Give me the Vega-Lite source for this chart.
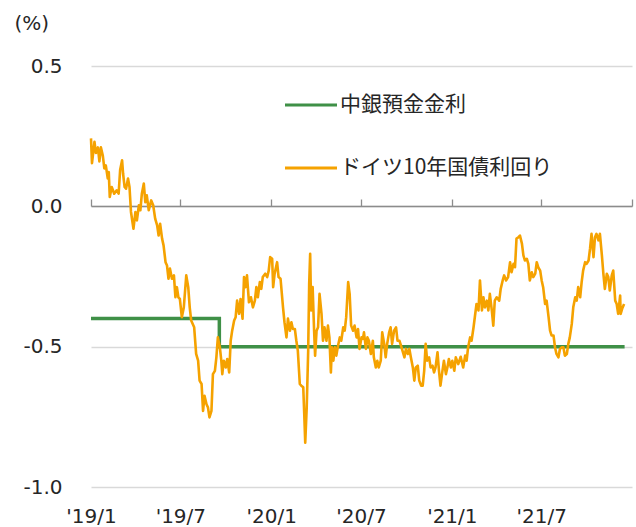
{
  "$schema": "https://vega.github.io/schema/vega-lite/v6.json",
  "width": 541,
  "height": 421,
  "autosize": {"type": "none"},
  "padding": {"left": 91, "top": 66, "right": 4, "bottom": 40},
  "background": "white",
  "config": {"view": {"stroke": null}},
  "datasets": {
    "ecb": [
      {"d": "2019-01-01", "v": -0.4},
      {"d": "2019-09-18", "v": -0.5},
      {"d": "2021-12-17", "v": -0.5}
    ],
    "bund": [
      {"d": "2019-01-01", "v": 0.242}, {"d": "2019-01-03", "v": 0.154}, {"d": "2019-01-08", "v": 0.23}, {"d": "2019-01-11", "v": 0.19},
      {"d": "2019-01-15", "v": 0.21}, {"d": "2019-01-18", "v": 0.16}, {"d": "2019-01-21", "v": 0.21}, {"d": "2019-01-25", "v": 0.18},
      {"d": "2019-01-28", "v": 0.135}, {"d": "2019-01-31", "v": 0.146}, {"d": "2019-02-04", "v": 0.099}, {"d": "2019-02-06", "v": 0.122},
      {"d": "2019-02-08", "v": 0.033}, {"d": "2019-02-12", "v": 0.069}, {"d": "2019-02-17", "v": 0.045}, {"d": "2019-02-22", "v": 0.057},
      {"d": "2019-02-26", "v": 0.045}, {"d": "2019-03-01", "v": 0.129}, {"d": "2019-03-05", "v": 0.164}, {"d": "2019-03-07", "v": 0.117},
      {"d": "2019-03-10", "v": 0.069}, {"d": "2019-03-13", "v": 0.063}, {"d": "2019-03-17", "v": 0.099}, {"d": "2019-03-20", "v": 0.069},
      {"d": "2019-03-23", "v": -0.02}, {"d": "2019-03-28", "v": -0.08}, {"d": "2019-04-01", "v": -0.02}, {"d": "2019-04-04", "v": -0.05},
      {"d": "2019-04-08", "v": 0.004}, {"d": "2019-04-11", "v": -0.014}, {"d": "2019-04-14", "v": 0.045}, {"d": "2019-04-18", "v": 0.081},
      {"d": "2019-04-21", "v": 0.015}, {"d": "2019-04-24", "v": 0.039}, {"d": "2019-04-28", "v": -0.014}, {"d": "2019-05-03", "v": 0.021},
      {"d": "2019-05-07", "v": 0.004}, {"d": "2019-05-11", "v": -0.044}, {"d": "2019-05-15", "v": -0.068}, {"d": "2019-05-18", "v": -0.104},
      {"d": "2019-05-21", "v": -0.062}, {"d": "2019-05-25", "v": -0.115}, {"d": "2019-05-28", "v": -0.139}, {"d": "2019-06-01", "v": -0.199},
      {"d": "2019-06-04", "v": -0.211}, {"d": "2019-06-07", "v": -0.258}, {"d": "2019-06-10", "v": -0.222}, {"d": "2019-06-14", "v": -0.258},
      {"d": "2019-06-18", "v": -0.246}, {"d": "2019-06-21", "v": -0.324}, {"d": "2019-06-24", "v": -0.288}, {"d": "2019-06-27", "v": -0.324},
      {"d": "2019-06-30", "v": -0.33}, {"d": "2019-07-04", "v": -0.395}, {"d": "2019-07-08", "v": -0.36}, {"d": "2019-07-13", "v": -0.246},
      {"d": "2019-07-17", "v": -0.288}, {"d": "2019-07-20", "v": -0.36}, {"d": "2019-07-23", "v": -0.407}, {"d": "2019-07-29", "v": -0.431},
      {"d": "2019-08-02", "v": -0.526}, {"d": "2019-08-06", "v": -0.55}, {"d": "2019-08-09", "v": -0.621}, {"d": "2019-08-13", "v": -0.633},
      {"d": "2019-08-16", "v": -0.729}, {"d": "2019-08-19", "v": -0.675}, {"d": "2019-08-23", "v": -0.705}, {"d": "2019-08-26", "v": -0.717},
      {"d": "2019-08-29", "v": -0.752}, {"d": "2019-09-02", "v": -0.729}, {"d": "2019-09-05", "v": -0.598}, {"d": "2019-09-09", "v": -0.586},
      {"d": "2019-09-12", "v": -0.538}, {"d": "2019-09-15", "v": -0.467}, {"d": "2019-09-19", "v": -0.502}, {"d": "2019-09-22", "v": -0.55},
      {"d": "2019-09-24", "v": -0.598}, {"d": "2019-09-27", "v": -0.55}, {"d": "2019-10-01", "v": -0.574}, {"d": "2019-10-04", "v": -0.544},
      {"d": "2019-10-08", "v": -0.592}, {"d": "2019-10-11", "v": -0.479}, {"d": "2019-10-14", "v": -0.443}, {"d": "2019-10-18", "v": -0.407},
      {"d": "2019-10-21", "v": -0.395}, {"d": "2019-10-24", "v": -0.336}, {"d": "2019-10-28", "v": -0.383}, {"d": "2019-10-31", "v": -0.33},
      {"d": "2019-11-04", "v": -0.4}, {"d": "2019-11-07", "v": -0.252}, {"d": "2019-11-10", "v": -0.288}, {"d": "2019-11-13", "v": -0.246},
      {"d": "2019-11-17", "v": -0.342}, {"d": "2019-11-21", "v": -0.324}, {"d": "2019-11-25", "v": -0.36}, {"d": "2019-11-29", "v": -0.336},
      {"d": "2019-12-02", "v": -0.288}, {"d": "2019-12-05", "v": -0.324}, {"d": "2019-12-09", "v": -0.27}, {"d": "2019-12-12", "v": -0.294},
      {"d": "2019-12-15", "v": -0.252}, {"d": "2019-12-20", "v": -0.24}, {"d": "2019-12-24", "v": -0.252}, {"d": "2019-12-27", "v": -0.229},
      {"d": "2019-12-30", "v": -0.181}, {"d": "2020-01-03", "v": -0.187}, {"d": "2020-01-05", "v": -0.288}, {"d": "2020-01-08", "v": -0.24},
      {"d": "2020-01-13", "v": -0.199}, {"d": "2020-01-16", "v": -0.252}, {"d": "2020-01-20", "v": -0.258}, {"d": "2020-01-25", "v": -0.36},
      {"d": "2020-01-28", "v": -0.413}, {"d": "2020-02-01", "v": -0.467}, {"d": "2020-02-04", "v": -0.4}, {"d": "2020-02-08", "v": -0.443},
      {"d": "2020-02-11", "v": -0.413}, {"d": "2020-02-14", "v": -0.437}, {"d": "2020-02-18", "v": -0.437}, {"d": "2020-02-21", "v": -0.479},
      {"d": "2020-02-24", "v": -0.514}, {"d": "2020-02-28", "v": -0.633}, {"d": "2020-03-02", "v": -0.639}, {"d": "2020-03-06", "v": -0.645},
      {"d": "2020-03-08", "v": -0.74}, {"d": "2020-03-10", "v": -0.842}, {"d": "2020-03-13", "v": -0.717}, {"d": "2020-03-16", "v": -0.514},
      {"d": "2020-03-18", "v": -0.276}, {"d": "2020-03-20", "v": -0.169}, {"d": "2020-03-22", "v": -0.371}, {"d": "2020-03-25", "v": -0.288},
      {"d": "2020-03-28", "v": -0.443}, {"d": "2020-03-30", "v": -0.532}, {"d": "2020-04-02", "v": -0.443}, {"d": "2020-04-05", "v": -0.431},
      {"d": "2020-04-08", "v": -0.312}, {"d": "2020-04-12", "v": -0.383}, {"d": "2020-04-15", "v": -0.479}, {"d": "2020-04-18", "v": -0.431},
      {"d": "2020-04-22", "v": -0.479}, {"d": "2020-04-25", "v": -0.425}, {"d": "2020-04-28", "v": -0.467}, {"d": "2020-05-01", "v": -0.592},
      {"d": "2020-05-03", "v": -0.502}, {"d": "2020-05-06", "v": -0.55}, {"d": "2020-05-09", "v": -0.502}, {"d": "2020-05-12", "v": -0.532},
      {"d": "2020-05-15", "v": -0.5}, {"d": "2020-05-19", "v": -0.467}, {"d": "2020-05-22", "v": -0.479}, {"d": "2020-05-26", "v": -0.431},
      {"d": "2020-05-29", "v": -0.443}, {"d": "2020-06-01", "v": -0.395}, {"d": "2020-06-05", "v": -0.27}, {"d": "2020-06-08", "v": -0.312},
      {"d": "2020-06-11", "v": -0.425}, {"d": "2020-06-15", "v": -0.443}, {"d": "2020-06-18", "v": -0.425}, {"d": "2020-06-22", "v": -0.467},
      {"d": "2020-06-25", "v": -0.437}, {"d": "2020-06-28", "v": -0.508}, {"d": "2020-07-02", "v": -0.467}, {"d": "2020-07-05", "v": -0.472},
      {"d": "2020-07-07", "v": -0.449}, {"d": "2020-07-11", "v": -0.508}, {"d": "2020-07-14", "v": -0.467}, {"d": "2020-07-17", "v": -0.479},
      {"d": "2020-07-21", "v": -0.526}, {"d": "2020-07-25", "v": -0.479}, {"d": "2020-07-27", "v": -0.538}, {"d": "2020-07-31", "v": -0.574},
      {"d": "2020-08-03", "v": -0.55}, {"d": "2020-08-06", "v": -0.574}, {"d": "2020-08-10", "v": -0.55}, {"d": "2020-08-13", "v": -0.449},
      {"d": "2020-08-17", "v": -0.49}, {"d": "2020-08-20", "v": -0.538}, {"d": "2020-08-23", "v": -0.49}, {"d": "2020-08-27", "v": -0.449},
      {"d": "2020-08-30", "v": -0.431}, {"d": "2020-09-02", "v": -0.49}, {"d": "2020-09-06", "v": -0.443}, {"d": "2020-09-10", "v": -0.431},
      {"d": "2020-09-13", "v": -0.479}, {"d": "2020-09-17", "v": -0.479}, {"d": "2020-09-20", "v": -0.496}, {"d": "2020-09-23", "v": -0.514},
      {"d": "2020-09-27", "v": -0.538}, {"d": "2020-09-30", "v": -0.508}, {"d": "2020-10-04", "v": -0.526}, {"d": "2020-10-07", "v": -0.508},
      {"d": "2020-10-10", "v": -0.538}, {"d": "2020-10-14", "v": -0.574}, {"d": "2020-10-17", "v": -0.621}, {"d": "2020-10-20", "v": -0.574},
      {"d": "2020-10-24", "v": -0.568}, {"d": "2020-10-27", "v": -0.621}, {"d": "2020-10-31", "v": -0.639}, {"d": "2020-11-03", "v": -0.639},
      {"d": "2020-11-06", "v": -0.586}, {"d": "2020-11-09", "v": -0.49}, {"d": "2020-11-12", "v": -0.55}, {"d": "2020-11-16", "v": -0.538},
      {"d": "2020-11-19", "v": -0.574}, {"d": "2020-11-23", "v": -0.568}, {"d": "2020-11-26", "v": -0.592}, {"d": "2020-11-29", "v": -0.574},
      {"d": "2020-12-03", "v": -0.52}, {"d": "2020-12-06", "v": -0.586}, {"d": "2020-12-09", "v": -0.639}, {"d": "2020-12-13", "v": -0.586},
      {"d": "2020-12-16", "v": -0.55}, {"d": "2020-12-20", "v": -0.598}, {"d": "2020-12-23", "v": -0.574}, {"d": "2020-12-26", "v": -0.544},
      {"d": "2020-12-30", "v": -0.574}, {"d": "2021-01-02", "v": -0.55}, {"d": "2021-01-06", "v": -0.586}, {"d": "2021-01-09", "v": -0.538},
      {"d": "2021-01-14", "v": -0.562}, {"d": "2021-01-19", "v": -0.536}, {"d": "2021-01-24", "v": -0.574}, {"d": "2021-01-28", "v": -0.532},
      {"d": "2021-01-31", "v": -0.55}, {"d": "2021-02-03", "v": -0.502}, {"d": "2021-02-07", "v": -0.467}, {"d": "2021-02-10", "v": -0.479},
      {"d": "2021-02-14", "v": -0.431}, {"d": "2021-02-17", "v": -0.389}, {"d": "2021-02-20", "v": -0.348}, {"d": "2021-02-24", "v": -0.371},
      {"d": "2021-02-27", "v": -0.264}, {"d": "2021-03-03", "v": -0.371}, {"d": "2021-03-06", "v": -0.324}, {"d": "2021-03-09", "v": -0.36},
      {"d": "2021-03-13", "v": -0.336}, {"d": "2021-03-16", "v": -0.371}, {"d": "2021-03-19", "v": -0.312}, {"d": "2021-03-23", "v": -0.371},
      {"d": "2021-03-26", "v": -0.425}, {"d": "2021-03-29", "v": -0.336}, {"d": "2021-04-02", "v": -0.324}, {"d": "2021-04-07", "v": -0.336},
      {"d": "2021-04-10", "v": -0.294}, {"d": "2021-04-14", "v": -0.264}, {"d": "2021-04-17", "v": -0.246}, {"d": "2021-04-21", "v": -0.264},
      {"d": "2021-04-25", "v": -0.252}, {"d": "2021-04-29", "v": -0.199}, {"d": "2021-05-02", "v": -0.235}, {"d": "2021-05-06", "v": -0.205},
      {"d": "2021-05-09", "v": -0.217}, {"d": "2021-05-12", "v": -0.115}, {"d": "2021-05-16", "v": -0.11}, {"d": "2021-05-19", "v": -0.104},
      {"d": "2021-05-23", "v": -0.133}, {"d": "2021-05-26", "v": -0.175}, {"d": "2021-05-29", "v": -0.193}, {"d": "2021-06-02", "v": -0.187},
      {"d": "2021-06-05", "v": -0.205}, {"d": "2021-06-08", "v": -0.264}, {"d": "2021-06-12", "v": -0.235}, {"d": "2021-06-15", "v": -0.252},
      {"d": "2021-06-19", "v": -0.24}, {"d": "2021-06-22", "v": -0.199}, {"d": "2021-06-25", "v": -0.217}, {"d": "2021-06-29", "v": -0.229},
      {"d": "2021-07-02", "v": -0.264}, {"d": "2021-07-05", "v": -0.288}, {"d": "2021-07-09", "v": -0.348}, {"d": "2021-07-12", "v": -0.336},
      {"d": "2021-07-16", "v": -0.395}, {"d": "2021-07-19", "v": -0.443}, {"d": "2021-07-22", "v": -0.46}, {"d": "2021-07-26", "v": -0.46},
      {"d": "2021-07-29", "v": -0.502}, {"d": "2021-08-01", "v": -0.526}, {"d": "2021-08-05", "v": -0.538}, {"d": "2021-08-08", "v": -0.508},
      {"d": "2021-08-12", "v": -0.502}, {"d": "2021-08-15", "v": -0.502}, {"d": "2021-08-18", "v": -0.532}, {"d": "2021-08-22", "v": -0.526},
      {"d": "2021-08-25", "v": -0.49}, {"d": "2021-08-28", "v": -0.467}, {"d": "2021-09-01", "v": -0.419}, {"d": "2021-09-04", "v": -0.36},
      {"d": "2021-09-08", "v": -0.324}, {"d": "2021-09-11", "v": -0.336}, {"d": "2021-09-14", "v": -0.288}, {"d": "2021-09-18", "v": -0.324},
      {"d": "2021-09-21", "v": -0.27}, {"d": "2021-09-24", "v": -0.229}, {"d": "2021-09-28", "v": -0.199}, {"d": "2021-10-01", "v": -0.205},
      {"d": "2021-10-05", "v": -0.193}, {"d": "2021-10-08", "v": -0.151}, {"d": "2021-10-11", "v": -0.098}, {"d": "2021-10-15", "v": -0.181},
      {"d": "2021-10-18", "v": -0.11}, {"d": "2021-10-21", "v": -0.098}, {"d": "2021-10-25", "v": -0.121}, {"d": "2021-10-28", "v": -0.098},
      {"d": "2021-11-01", "v": -0.175}, {"d": "2021-11-04", "v": -0.24}, {"d": "2021-11-07", "v": -0.294}, {"d": "2021-11-11", "v": -0.24},
      {"d": "2021-11-14", "v": -0.252}, {"d": "2021-11-17", "v": -0.3}, {"d": "2021-11-21", "v": -0.246}, {"d": "2021-11-24", "v": -0.229},
      {"d": "2021-11-28", "v": -0.336}, {"d": "2021-12-01", "v": -0.348}, {"d": "2021-12-04", "v": -0.383}, {"d": "2021-12-08", "v": -0.318},
      {"d": "2021-12-09", "v": -0.383}, {"d": "2021-12-12", "v": -0.365}, {"d": "2021-12-16", "v": -0.348}
    ]
  },
  "resolve": {"axis": {"x": "independent"}},
  "layer": [
    {
      "data": {"name": "ecb"},
      "mark": {"type": "line", "interpolate": "step-after", "strokeWidth": 3.5, "strokeCap": "butt"},
      "encoding": {
        "x": {
          "field": "d", "type": "temporal",
          "scale": {"type": "utc", "domain": [{"year": 2019, "month": 1, "date": 1, "utc": true}, {"year": 2022, "month": 1, "date": 1, "utc": true}]},
          "axis": {
            "orient": "bottom", "title": null, "grid": false, "domain": false, "ticks": false,
            "values": [
              {"year": 2019, "month": 1, "date": 1, "utc": true}, {"year": 2019, "month": 7, "date": 1, "utc": true},
              {"year": 2020, "month": 1, "date": 1, "utc": true}, {"year": 2020, "month": 7, "date": 1, "utc": true},
              {"year": 2021, "month": 1, "date": 1, "utc": true}, {"year": 2021, "month": 7, "date": 1, "utc": true}
            ],
            "format": "'%y/%-m", "labelFont": "DejaVu Sans", "labelFontSize": 20, "labelColor": "#262626",
            "labelPadding": 19, "labelFlush": false, "labelOverlap": false, "zindex": 0
          }
        },
        "y": {
          "field": "v", "type": "quantitative",
          "scale": {"domain": [-1, 0.5], "nice": false, "zero": false},
          "axis": {
            "title": "(%)", "titleAngle": 0, "titleX": -77, "titleY": -43, "titleAlign": "left", "titleBaseline": "middle",
            "titleFont": "DejaVu Sans", "titleFontSize": 20, "titleFontWeight": "normal", "titleColor": "#262626",
            "values": [-1, -0.5, 0, 0.5], "format": ".1f", "labelExpr": "replace(datum.label, '−', '-')",
            "domain": false, "ticks": false,
            "labelFont": "DejaVu Sans", "labelFontSize": 20, "labelColor": "#262626", "labelPadding": 29,
            "grid": true, "gridColor": "#d9d9d9", "gridWidth": 1.5, "zindex": 0
          }
        },
        "color": {
          "datum": "中銀預金金利", "type": "nominal",
          "scale": {"domain": ["中銀預金金利", "ドイツ10年国債利回り"], "range": ["#3f9047", "#f5a200"]},
          "legend": {
            "title": null, "orient": "none", "legendX": 192, "legendY": 11, "direction": "vertical",
            "symbolType": "stroke", "symbolSize": 2704, "symbolStrokeWidth": 3.2, "padding": 0,
            "labelFont": "Noto Sans CJK JP", "labelFontSize": 21, "labelColor": "#262626", "labelOffset": 1,
            "rowPadding": 25, "labelLimit": 400
          }
        }
      }
    },
    {
      "data": {"name": "bund"},
      "mark": {"type": "line", "strokeWidth": 2.6, "strokeJoin": "round"},
      "encoding": {
        "x": {
          "field": "d", "type": "temporal",
          "axis": {
            "orient": "top", "offset": -140, "title": null, "grid": false, "labels": false,
            "domain": true, "domainColor": "#8c8c8c", "domainWidth": 1.3,
            "ticks": true, "tickColor": "#8c8c8c", "tickSize": 7, "tickWidth": 1.3,
            "values": [
              {"year": 2019, "month": 1, "date": 1, "utc": true}, {"year": 2019, "month": 7, "date": 1, "utc": true},
              {"year": 2020, "month": 1, "date": 1, "utc": true}, {"year": 2020, "month": 7, "date": 1, "utc": true},
              {"year": 2021, "month": 1, "date": 1, "utc": true}, {"year": 2021, "month": 7, "date": 1, "utc": true},
              {"year": 2022, "month": 1, "date": 1, "utc": true}
            ],
            "zindex": 0
          }
        },
        "y": {"field": "v", "type": "quantitative"},
        "color": {"datum": "ドイツ10年国債利回り", "type": "nominal"}
      }
    }
  ]
}
